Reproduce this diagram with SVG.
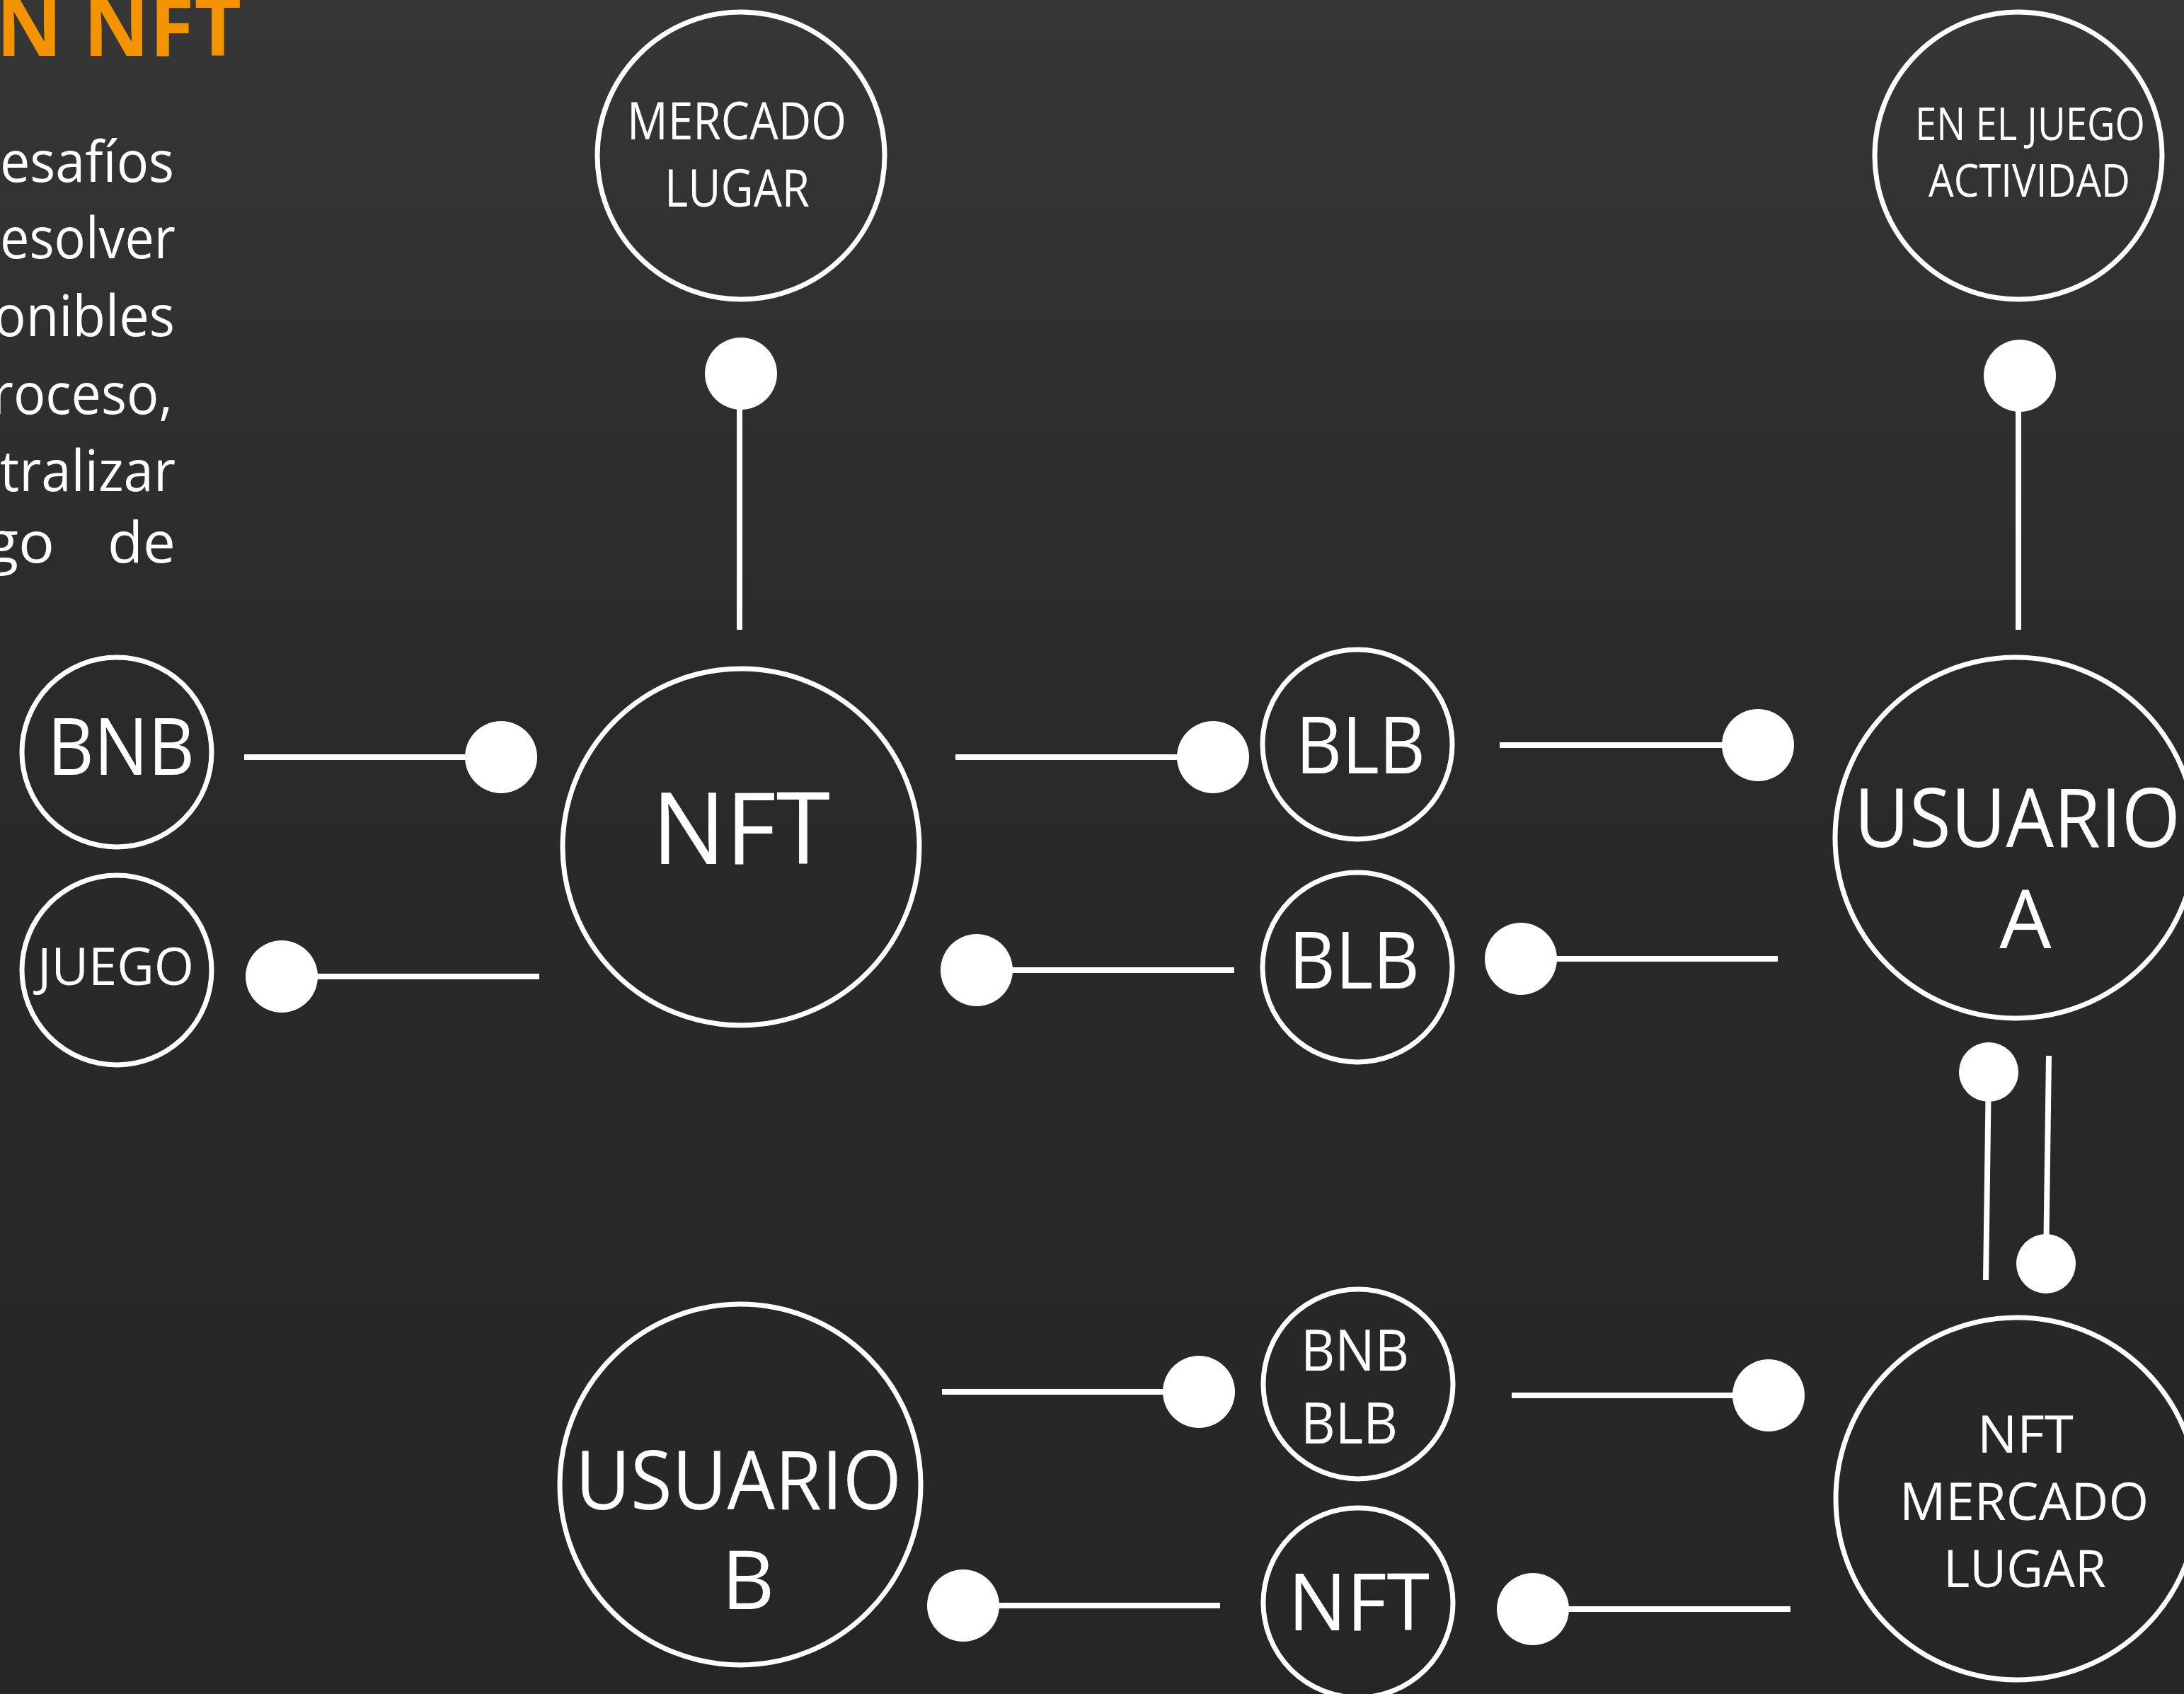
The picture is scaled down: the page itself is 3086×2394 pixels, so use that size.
<svg xmlns="http://www.w3.org/2000/svg" width="3086" height="2394" viewBox="0 0 3086 2394">
<defs>
<linearGradient id="bg" x1="0" y1="0" x2="0" y2="1">
<stop offset="0" stop-color="#363636"/>
<stop offset="0.4" stop-color="#2a2a2a"/>
<stop offset="1" stop-color="#262626"/>
</linearGradient>
<style>
.node{fill:none;stroke:#ffffff;stroke-width:7}
.lbl{fill:#ffffff;font-family:"Open Sans","Noto Sans","Liberation Sans",sans-serif;font-weight:400}
.para{fill:#ffffff;font-family:"Open Sans","Noto Sans","Liberation Sans",sans-serif;font-size:80px}
.title{fill:#F49300;font-family:"Open Sans","Noto Sans","Liberation Sans",sans-serif;font-weight:700;font-size:115px}
.ln{stroke:#ffffff;stroke-width:8;fill:none}
.dot{fill:#ffffff}
</style>
</defs>
<rect x="0" y="0" width="3086" height="2394" fill="url(#bg)"/>

<g id="heading">
<text class="title" x="341" y="79" text-anchor="end">N NFT</text>
<text class="para" x="0" y="257" textLength="246" lengthAdjust="spacingAndGlyphs">esafíos</text>
<text class="para" x="0" y="365" textLength="248" lengthAdjust="spacingAndGlyphs">esolver</text>
<text class="para" x="-9" y="475" textLength="256" lengthAdjust="spacingAndGlyphs">onibles</text>
<text class="para" x="-12" y="585" textLength="256" lengthAdjust="spacingAndGlyphs">roceso,</text>
<text class="para" x="0" y="694" textLength="248" lengthAdjust="spacingAndGlyphs">tralizar</text>
<text class="para" y="795"><tspan x="-20" textLength="97" lengthAdjust="spacingAndGlyphs">go</tspan><tspan x="152" textLength="96" lengthAdjust="spacingAndGlyphs">de</tspan></text>
</g>

<g id="connectors">
<line class="ln" x1="1045" y1="528" x2="1045" y2="890"/><circle class="dot" cx="1047" cy="528" r="51"/>
<line class="ln" x1="2852" y1="531" x2="2852" y2="890"/><circle class="dot" cx="2854" cy="531" r="51"/>
<line class="ln" x1="345" y1="1070" x2="708" y2="1070"/><circle class="dot" cx="708" cy="1070" r="51"/>
<line class="ln" x1="398" y1="1380" x2="762" y2="1380"/><circle class="dot" cx="398" cy="1380" r="51"/>
<line class="ln" x1="1350" y1="1070" x2="1714" y2="1070"/><circle class="dot" cx="1714" cy="1070" r="51"/>
<line class="ln" x1="2119" y1="1053" x2="2484" y2="1053"/><circle class="dot" cx="2484" cy="1053" r="51"/>
<line class="ln" x1="1380" y1="1371" x2="1744" y2="1371"/><circle class="dot" cx="1380" cy="1371" r="51"/>
<line class="ln" x1="2149" y1="1355" x2="2512" y2="1355"/><circle class="dot" cx="2149" cy="1355" r="51"/>
<line class="ln" x1="2810" y1="1515" x2="2806" y2="1809"/><circle class="dot" cx="2810" cy="1515" r="42"/>
<line class="ln" x1="2895" y1="1492" x2="2891" y2="1786"/><circle class="dot" cx="2891" cy="1786" r="42"/>
<line class="ln" x1="1331" y1="1967" x2="1694" y2="1967"/><circle class="dot" cx="1694" cy="1967" r="51"/>
<line class="ln" x1="1361" y1="2269" x2="1724" y2="2269"/><circle class="dot" cx="1361" cy="2269" r="51"/>
<line class="ln" x1="2136" y1="1972" x2="2499" y2="1972"/><circle class="dot" cx="2499" cy="1972" r="51"/>
<line class="ln" x1="2166" y1="2274" x2="2530" y2="2274"/><circle class="dot" cx="2166" cy="2274" r="51"/>
</g>

<g id="node-mercado-lugar">
<circle class="node" cx="1047" cy="220" r="203"/>
<text class="lbl" font-size="74" x="886" y="197" textLength="310" lengthAdjust="spacingAndGlyphs">MERCADO</text>
<text class="lbl" font-size="74" x="939" y="292" textLength="205" lengthAdjust="spacingAndGlyphs">LUGAR</text>
</g>

<g id="node-en-el-juego">
<circle class="node" cx="2852" cy="220" r="203"/>
<text class="lbl" font-size="64" x="2706" y="198" textLength="325" lengthAdjust="spacingAndGlyphs">EN EL JUEGO</text>
<text class="lbl" font-size="64" x="2725" y="278" textLength="285" lengthAdjust="spacingAndGlyphs">ACTIVIDAD</text>
</g>

<g id="node-bnb">
<circle class="node" cx="165" cy="1063" r="134"/>
<text class="lbl" font-size="112" x="67" y="1095" textLength="208" lengthAdjust="spacingAndGlyphs">BNB</text>
</g>

<g id="node-juego">
<circle class="node" cx="165" cy="1371" r="134"/>
<text class="lbl" font-size="73" x="53" y="1392" textLength="221" lengthAdjust="spacingAndGlyphs">JUEGO</text>
</g>

<g id="node-nft">
<circle class="node" cx="1047" cy="1197" r="252"/>
<text class="lbl" font-size="141" x="921" y="1221" textLength="252" lengthAdjust="spacingAndGlyphs">NFT</text>
</g>

<g id="node-blb-1">
<circle class="node" cx="1918" cy="1052" r="134"/>
<text class="lbl" font-size="112" x="1831" y="1093" textLength="183" lengthAdjust="spacingAndGlyphs">BLB</text>
</g>

<g id="node-blb-2">
<circle class="node" cx="1918" cy="1367" r="134"/>
<text class="lbl" font-size="112" x="1821" y="1397" textLength="185" lengthAdjust="spacingAndGlyphs">BLB</text>
</g>

<g id="node-usuario-a">
<circle class="node" cx="2848" cy="1184" r="255"/>
<text class="lbl" font-size="116" x="2620" y="1197" textLength="461" lengthAdjust="spacingAndGlyphs">USUARIO</text>
<text class="lbl" font-size="116" x="2862" y="1340" text-anchor="middle">A</text>
</g>

<g id="node-usuario-b">
<circle class="node" cx="1046" cy="2098" r="255"/>
<text class="lbl" font-size="116" x="813" y="2133" textLength="461" lengthAdjust="spacingAndGlyphs">USUARIO</text>
<text class="lbl" font-size="116" x="1057" y="2274" text-anchor="middle">B</text>
</g>

<g id="node-bnb-blb">
<circle class="node" cx="1919" cy="1956" r="134"/>
<text class="lbl" font-size="80" x="1838" y="1937" textLength="153" lengthAdjust="spacingAndGlyphs">BNB</text>
<text class="lbl" font-size="80" x="1838" y="2040" textLength="137" lengthAdjust="spacingAndGlyphs">BLB</text>
</g>

<g id="node-nft-small">
<circle class="node" cx="1919" cy="2265" r="134"/>
<text class="lbl" font-size="112" x="1820" y="2304" textLength="200" lengthAdjust="spacingAndGlyphs">NFT</text>
</g>

<g id="node-nft-mercado-lugar">
<circle class="node" cx="2850" cy="2118" r="256"/>
<text class="lbl" font-size="73" x="2794" y="2053" textLength="136" lengthAdjust="spacingAndGlyphs">NFT</text>
<text class="lbl" font-size="73" x="2684" y="2148" textLength="352" lengthAdjust="spacingAndGlyphs">MERCADO</text>
<text class="lbl" font-size="73" x="2746" y="2243" textLength="230" lengthAdjust="spacingAndGlyphs">LUGAR</text>
</g>
</svg>
